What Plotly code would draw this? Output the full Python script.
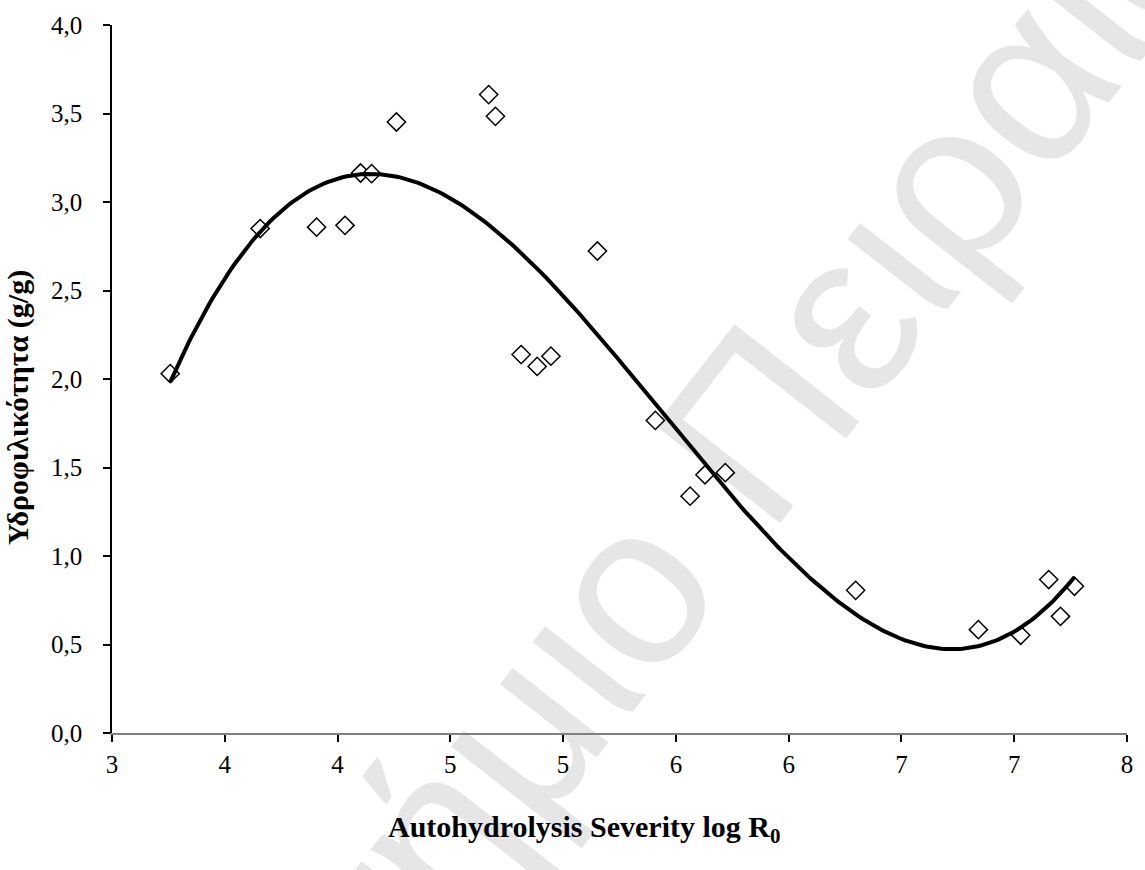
import numpy as np
import plotly.graph_objects as go

# Autohydrolysis severity (log R0) and measured hydrophilicity (g/g)
severity = [3.258, 3.657, 3.907, 4.033, 4.102, 4.151, 4.261, 4.670, 4.700,
            4.814, 4.885, 4.946, 5.152, 5.409, 5.563, 5.629, 5.719, 6.297,
            6.841, 7.029, 7.153, 7.205, 7.267]
hydrophilicity = [2.030, 2.850, 2.858, 2.868, 3.164, 3.160, 3.452, 3.607, 3.484,
                  2.138, 2.071, 2.129, 2.723, 1.766, 1.338, 1.459, 1.471, 0.806,
                  0.584, 0.552, 0.867, 0.659, 0.829]

x_tickvals = [3.0, 3.5, 4.0, 4.5, 5.0, 5.5, 6.0, 6.5, 7.0, 7.5]
x_ticktext = ["3", "4", "4", "5", "5", "6", "6", "7", "7", "8"]
y_tickvals = [0.0, 0.5, 1.0, 1.5, 2.0, 2.5, 3.0, 3.5, 4.0]

# Third-order polynomial trendline through the measurements
coef = np.polyfit(severity, hydrophilicity, 3)
x_fit = np.linspace(min(severity), max(severity), 300)
y_fit = np.polyval(coef, x_fit)

serif = "Liberation Serif, Times New Roman, serif"

fig = go.Figure()
fig.add_trace(go.Scatter(
    x=severity, y=hydrophilicity, mode="markers",
    marker=dict(symbol="diamond", size=14, color="white",
                line=dict(color="black", width=1.5)),
    showlegend=False, hoverinfo="x+y"))
fig.add_trace(go.Scatter(
    x=x_fit, y=y_fit, mode="lines",
    line=dict(color="black", width=4),
    showlegend=False, hoverinfo="skip"))

fig.update_layout(
    width=1145, height=870,
    margin=dict(l=112, r=12, t=25, b=137),
    paper_bgcolor="white", plot_bgcolor="white",
    separators=",.",
    font=dict(family=serif, size=25, color="black"),
    xaxis=dict(range=[3.0, 7.5], tickvals=x_tickvals, ticktext=x_ticktext,
               showgrid=False, zeroline=False, showline=True,
               linecolor="#808080", linewidth=1.5,
               ticks="outside", ticklen=7, tickwidth=1.5, tickcolor="black",
               ticklabelstandoff=1, tickfont=dict(size=25)),
    yaxis=dict(range=[0.0, 4.0], tickvals=y_tickvals, tickformat=".1f",
               showgrid=False, zeroline=False, showline=True,
               linecolor="black", linewidth=1.5,
               ticks="outside", ticklen=7, tickwidth=1.5, tickcolor="black",
               ticklabelstandoff=16, tickfont=dict(size=25)),
    annotations=[
        dict(text="<b>Autohydrolysis Severity log R<sub>0</sub></b>",
             xref="paper", yref="paper", x=0.465, y=-0.135,
             xanchor="center", yanchor="middle", showarrow=False,
             font=dict(family=serif, size=30, color="black")),
        dict(text="<b>Υδροφιλικότητα (g/g)</b>",
             xref="paper", yref="paper", x=-0.092, y=0.46,
             xanchor="center", yanchor="middle", textangle=-90,
             showarrow=False, font=dict(family=serif, size=30, color="black")),
    ],
    shapes=[
        # faint diagonal watermark drawn beneath the data
        dict(type="rect", xref="paper", yref="paper",
             x0=0.10, x1=0.71, y0=-0.44, y1=0.57, layer="below",
             line=dict(width=0), fillcolor="rgba(0,0,0,0)",
             label=dict(text="Πανεπιστήμιο Πειραιώς", textangle=-52,
                        textposition="middle center",
                        font=dict(family="Liberation Sans, Arial, sans-serif",
                                  size=230, color="#e6e6e6"))),
    ],
)

fig.write_html("out.html")
